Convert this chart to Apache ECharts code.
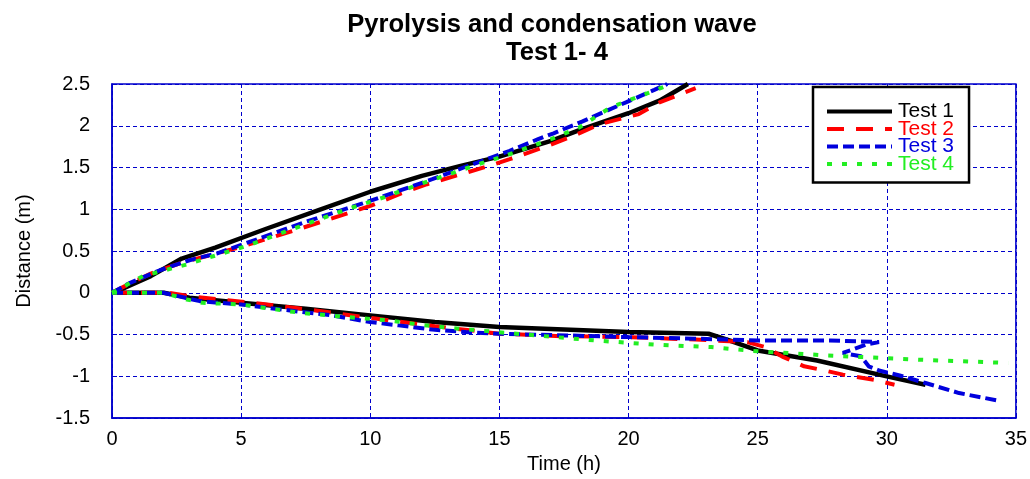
<!DOCTYPE html>
<html>
<head>
<meta charset="utf-8">
<script src="https://cdn.jsdelivr.net/npm/echarts@6/dist/echarts.min.js"></script>
<style>
  html, body { margin: 0; padding: 0; background: #fff; }
  #chart { width: 1030px; height: 479px; }
</style>
</head>
<body>
<div id="chart"></div>
<script>
// x: time (h), y: distance (m)
const test1Up = [[0, 0], [0.5, 0.06], [1.5, 0.2], [2.7, 0.41], [4, 0.54], [6, 0.77], [8, 0.99], [10, 1.21], [12, 1.4], [13.5, 1.52], [15, 1.63], [17, 1.82], [18.2, 1.96], [20, 2.15], [21.2, 2.3], [22.3, 2.5]]
const test1Down = [[0, 0], [2, 0], [3, -0.06], [5, -0.12], [7.5, -0.19], [10, -0.27], [12.5, -0.35], [15, -0.41], [17.5, -0.44], [20, -0.47], [23.1, -0.49], [24, -0.58], [25, -0.69], [27.3, -0.81], [30, -1.0], [31.5, -1.1]]
const test2Up = [[0, 0], [0.5, 0.08], [1.5, 0.23], [2.7, 0.36], [5, 0.55], [7, 0.74], [10, 1.04], [11.2, 1.19], [12.2, 1.3], [14.5, 1.51], [15.4, 1.6], [16.7, 1.74], [17.8, 1.87], [18.9, 2.02], [20.4, 2.14], [21.2, 2.28], [22.6, 2.45]]
const test2Down = [[0, 0], [2.2, 0], [3, -0.04], [4.2, -0.08], [5.5, -0.12], [7.6, -0.2], [10, -0.3], [12.5, -0.4], [15, -0.49], [17.5, -0.52], [20, -0.53], [22.6, -0.56], [24.6, -0.59], [25.3, -0.65], [26, -0.77], [26.8, -0.88], [27.6, -0.93], [28.3, -0.98], [29.5, -1.04], [30.3, -1.1]]
const test3Up = [[0, 0], [0.7, 0.12], [1.85, 0.27], [3, 0.39], [4.05, 0.47], [5.7, 0.65], [7.5, 0.85], [9.7, 1.07], [11.1, 1.22], [12.4, 1.36], [13.7, 1.51], [15.4, 1.7], [16.5, 1.84], [17.1, 1.91], [18.2, 2.05], [19.9, 2.28], [21, 2.43], [21.5, 2.5]]
const test3Down = [[0, 0], [2, 0], [3.4, -0.1], [5, -0.14], [7.1, -0.22], [8.5, -0.27], [10, -0.35], [11.1, -0.39], [12.4, -0.44], [13.7, -0.47], [15, -0.49], [17.6, -0.51], [20, -0.53], [22.7, -0.55], [25, -0.57], [27.8, -0.57], [29.7, -0.59], [29.2, -0.62], [28.3, -0.72], [29.0, -0.76], [29.3, -0.88], [29.7, -0.93], [30.5, -0.99], [31.5, -1.08], [32.8, -1.2], [34.3, -1.29]]
const test4Up = [[0, 0], [1.2, 0.2], [2.9, 0.34], [5.2, 0.56], [7.4, 0.81], [9.1, 1.0], [10.5, 1.14], [12, 1.31], [14.2, 1.54], [15.4, 1.66], [17, 1.84], [18.1, 1.98], [19.3, 2.22], [20.4, 2.35], [21.5, 2.48]]
const test4Down = [[0, 0], [2, 0], [2.9, -0.08], [3.5, -0.12], [5, -0.14], [7.3, -0.24], [9.1, -0.29], [10.7, -0.33], [12.4, -0.4], [14.2, -0.45], [16.4, -0.51], [18.7, -0.57], [21, -0.62], [23.2, -0.65], [25, -0.7], [27.7, -0.75], [31.2, -0.8], [34.7, -0.84]]

const names = ['Test 1', 'Test 2', 'Test 3', 'Test 4']
const colors = ['#000000', '#ff0000', '#0000dd', '#22ee22']
const dashes = ['solid', [17, 12], [11, 5], [5, 10]]

const FONT = '"Liberation Sans", Arial, sans-serif'
const BLUE = '#0000cc'

function line(i, data) {
  return {
    name: names[i],
    type: 'line',
    data: data,
    symbol: 'none',
    smooth: false,
    color: colors[i],
    lineStyle: { color: colors[i], width: i === 0 ? 4.5 : 4, type: dashes[i] }
  }
}

const chart = echarts.init(document.getElementById('chart'))
chart.setOption({
  animation: false,
  backgroundColor: '#fff',
  graphic: [
    { type: 'text', x: 552, y: 25, style: { text: 'Pyrolysis and condensation wave', align: 'center', verticalAlign: 'middle', font: 'bold 25.6px ' + FONT, fill: '#000' } },
    { type: 'text', x: 557, y: 53, style: { text: 'Test 1- 4', align: 'center', verticalAlign: 'middle', font: 'bold 25.6px ' + FONT, fill: '#000' } }
  ],
  grid: {
    left: 112, right: 12, top: 84, bottom: 58,
    show: true, borderColor: BLUE, borderWidth: 1.5
  },
  legend: {
    orient: 'vertical',
    left: 813, top: 87,
    backgroundColor: '#fff',
    borderColor: '#000', borderWidth: 2.5,
    padding: [14, 15, 8, 12],
    itemGap: -3.5,
    itemWidth: 65,
    itemHeight: 17,
    itemStyle: { opacity: 0 },
    lineStyle: { width: 4 },
    textStyle: { fontSize: 21, fontFamily: FONT, padding: [0, 0, 0, 1] },
    data: names.map((n, i) => ({ name: n, textStyle: { color: colors[i] } }))
  },
  xAxis: {
    type: 'value', min: 0, max: 35, interval: 5,
    name: 'Time (h)', nameLocation: 'middle', nameGap: 33,
    nameTextStyle: { fontSize: 20, fontFamily: FONT, color: '#000' },
    axisLine: { show: true, onZero: false, lineStyle: { color: BLUE, width: 1.5 } },
    axisTick: { show: true, inside: true, length: 5, lineStyle: { color: BLUE } },
    axisLabel: { fontSize: 20, fontFamily: FONT, color: '#000', margin: 11 },
    splitLine: { show: true, lineStyle: { color: BLUE, width: 1, type: [4, 3] } }
  },
  yAxis: {
    type: 'value', min: -1.5, max: 2.5, interval: 0.5,
    name: 'Distance (m)', nameLocation: 'middle', nameGap: 78,
    nameTextStyle: { fontSize: 20, fontFamily: FONT, color: '#000' },
    axisLine: { show: true, onZero: false, lineStyle: { color: BLUE, width: 1.5 } },
    axisTick: { show: true, inside: true, length: 5, lineStyle: { color: BLUE } },
    axisLabel: { fontSize: 20, fontFamily: FONT, color: '#000', margin: 22 },
    splitLine: { show: true, lineStyle: { color: BLUE, width: 1, type: [4, 3] } }
  },
  series: [
    line(0, test1Up), line(0, test1Down),
    line(1, test2Up), line(1, test2Down),
    line(2, test3Up), line(2, test3Down),
    line(3, test4Up), line(3, test4Down)
  ]
})
</script>
</body>
</html>
